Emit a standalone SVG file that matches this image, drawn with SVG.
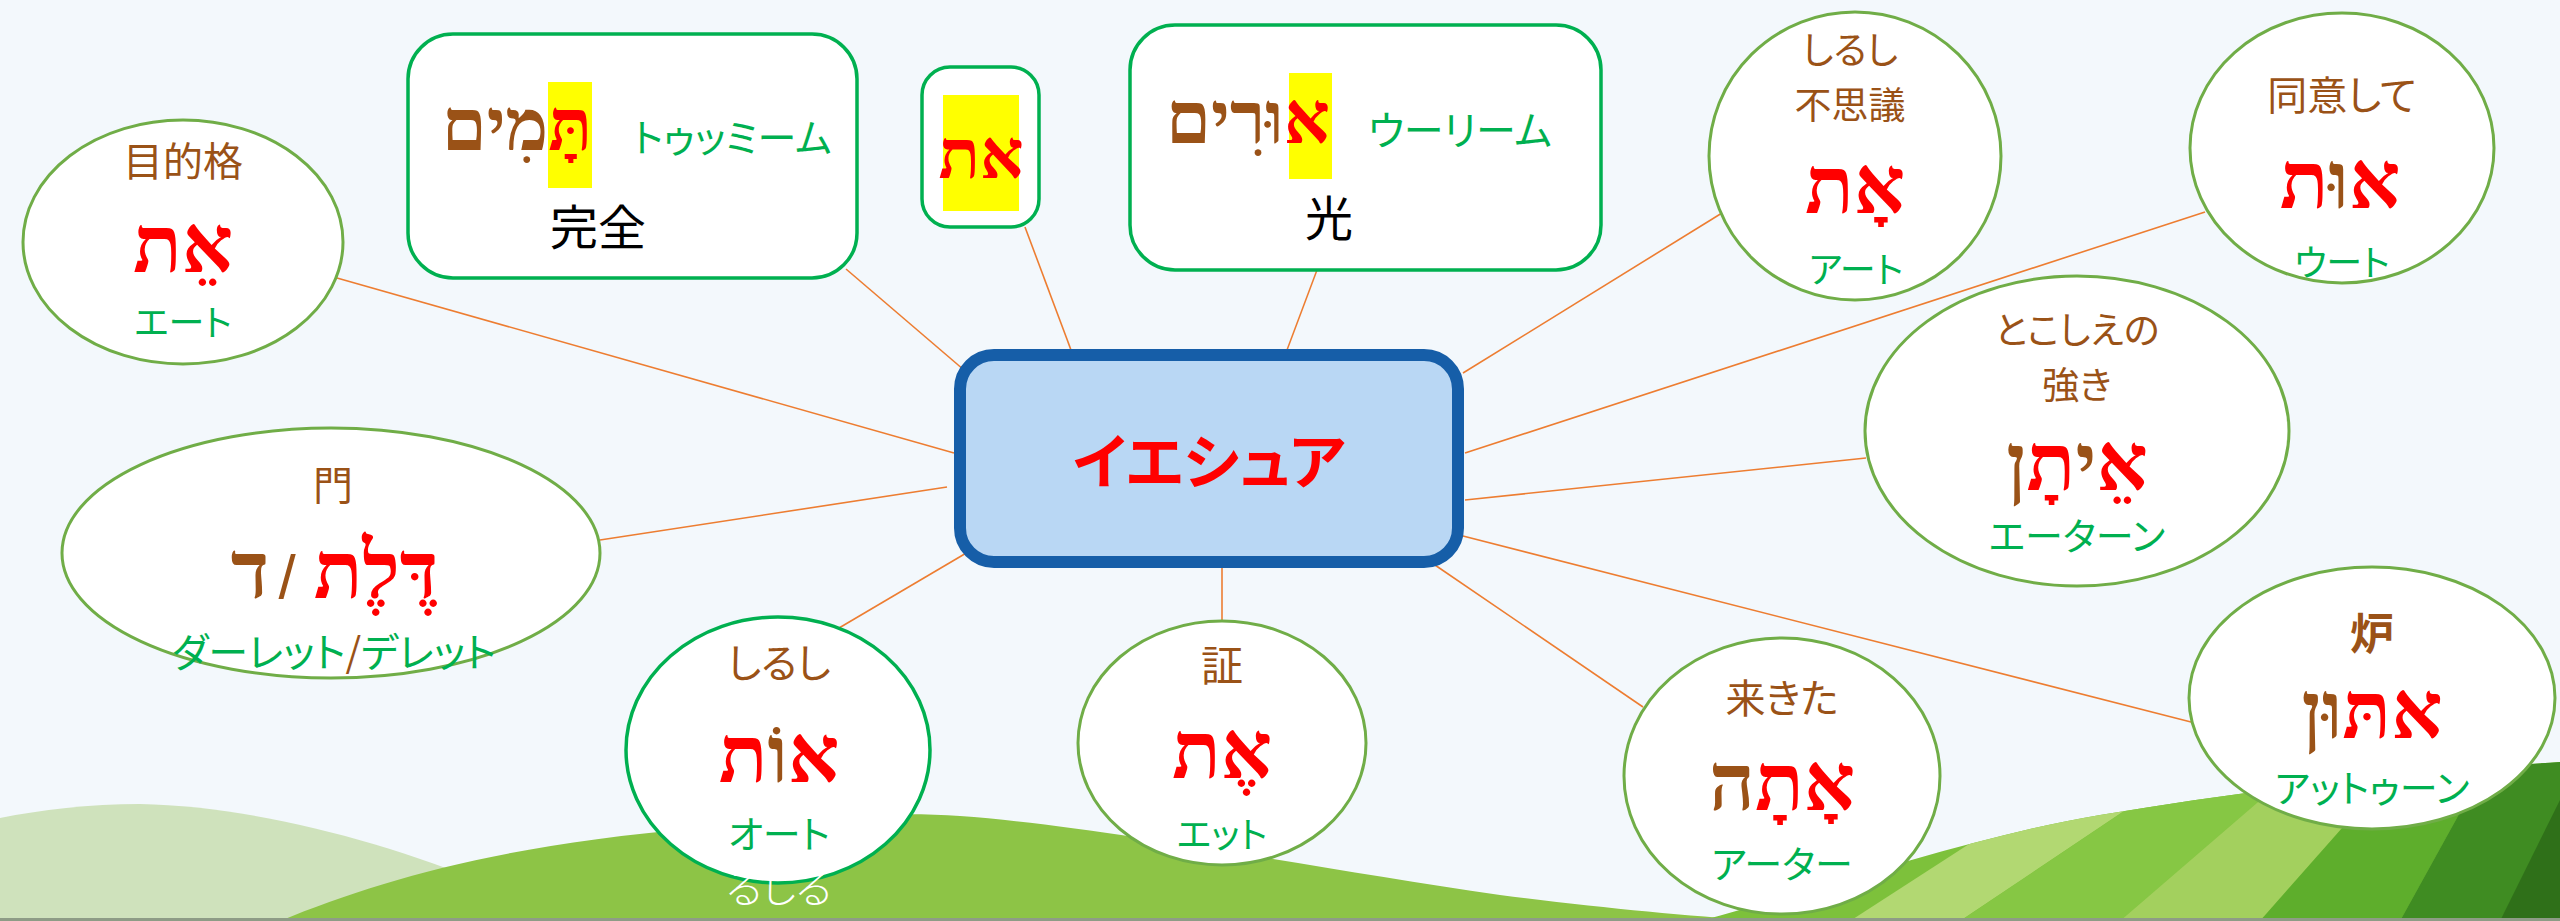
<svg xmlns="http://www.w3.org/2000/svg" width="2560" height="921" viewBox="0 0 2560 921">
  <style>
    .jp { font-family: "Noto Sans CJK JP", "Noto Sans", sans-serif; font-feature-settings: "palt"; text-anchor: middle; }
    .he { font-family: "Liberation Serif", "DejaVu Sans", serif; font-weight: bold; text-anchor: middle; }
    .brown { fill: #9A5217; }
    .red { fill: #FF0000; }
    .green { fill: #00B050; }
    .black { fill: #000000; }
    .oval { fill: #FFFFFF; stroke: #70AD47; stroke-width: 3; }
    .box { fill: #FFFFFF; stroke: #00B050; stroke-width: 3.5; }
    .mark { fill: #FFFF00; }
    .link { stroke: #ED7D31; stroke-width: 1.6; fill: none; }
  </style>
  <defs>
    <clipPath id="fieldClip">
      <path d="M1700 921 C1850 880 1980 835 2100 815 C2250 790 2400 772 2560 762 L2560 921 Z"/>
    </clipPath>
  </defs>

  <!-- sky -->
  <rect x="0" y="0" width="2560" height="921" fill="#F3F8FC"/>

  <!-- hills -->
  <g id="hills">
    <path d="M0 818 C40 810 90 804 140 804 C250 806 380 840 490 885 L490 921 L0 921 Z" fill="#CFE2BC"/>
    <path d="M280 921 C380 880 500 845 700 828 C820 815 900 812 960 816 C1100 826 1300 866 1500 895 C1600 908 1680 915 1760 921 Z" fill="#8DC446"/>
    <g clip-path="url(#fieldClip)">
      <rect x="1690" y="740" width="880" height="190" fill="#7DC13B"/>
      <polygon points="1850,921 2130,740 2230,740 1960,921" fill="#B2D872"/>
      <polygon points="1960,921 2230,740 2330,740 2120,921" fill="#86C744"/>
      <polygon points="2120,921 2330,740 2420,740 2260,921" fill="#A3D05E"/>
      <polygon points="2260,921 2420,740 2500,740 2400,921" fill="#5EAE2C"/>
      <polygon points="2400,921 2500,740 2560,740 2560,921" fill="#3F8C22"/>
      <polygon points="2500,921 2560,800 2560,921" fill="#2F7019"/>
    </g>
    <rect x="0" y="918" width="2560" height="3" fill="#8E9C86"/>
  </g>

  <!-- connectors -->
  <g id="connectors">
    <line class="link" x1="954" y1="453" x2="337" y2="278"/>
    <line class="link" x1="964" y1="370" x2="846" y2="269"/>
    <line class="link" x1="1071" y1="350" x2="1025" y2="227"/>
    <line class="link" x1="1287" y1="350" x2="1317" y2="270"/>
    <line class="link" x1="1463" y1="373" x2="1722" y2="213"/>
    <line class="link" x1="1465" y1="453" x2="2205" y2="212"/>
    <line class="link" x1="1465" y1="500" x2="1866" y2="458"/>
    <line class="link" x1="1463" y1="536" x2="2191" y2="722"/>
    <line class="link" x1="1432" y1="563" x2="1643" y2="707"/>
    <line class="link" x1="1222" y1="568" x2="1222" y2="622"/>
    <line class="link" x1="968" y1="552" x2="839" y2="628"/>
    <line class="link" x1="947" y1="487" x2="600" y2="540"/>
  </g>

  <!-- central node -->
  <g id="node-center">
    <rect x="960" y="355" width="498" height="207" rx="34" fill="#B9D7F4" stroke="#165EA8" stroke-width="12"/>
    <text class="jp red" x="1209" y="484" font-size="60" font-weight="bold">イエシュア</text>
  </g>

  <!-- object marker -->
  <g id="node-mokutekikaku">
    <ellipse class="oval" cx="183" cy="242" rx="160" ry="122"/>
    <text class="jp brown" x="183" y="176" font-size="40">目的格</text>
    <text class="he red" x="183" y="272" font-size="80">אֵת</text>
    <text class="jp green" x="183" y="336" font-size="36">エート</text>
  </g>

  <!-- perfect -->
  <g id="node-kanzen">
    <rect class="box" x="408" y="34" width="449" height="244" rx="45"/>
    <rect class="mark" x="548" y="82" width="44" height="106"/>
    <text class="he" x="517" y="150" font-size="72"><tspan class="red">תָּ</tspan><tspan class="brown">מִים</tspan></text>
    <text class="jp green" x="633" y="152" font-size="39" style="text-anchor:start">トゥッミーム</text>
    <text class="jp black" x="598" y="245" font-size="48">完全</text>
  </g>

  <!-- aleph-tav -->
  <g id="node-et">
    <rect class="box" x="922" y="67" width="117" height="160" rx="28"/>
    <rect class="mark" x="943" y="95" width="76" height="116"/>
    <text class="he red" x="981" y="178" font-size="68">את</text>
  </g>

  <!-- light -->
  <g id="node-hikari">
    <rect class="box" x="1130" y="25" width="471" height="245" rx="45"/>
    <rect class="mark" x="1289" y="73" width="43" height="106"/>
    <text class="he" x="1248" y="143" font-size="72"><tspan class="red">א</tspan><tspan class="brown">וּרִים</tspan></text>
    <text class="jp green" x="1368" y="145" font-size="40" style="text-anchor:start">ウーリーム</text>
    <text class="jp black" x="1329" y="236" font-size="48">光</text>
  </g>

  <!-- sign, wonder -->
  <g id="node-fushigi">
    <ellipse class="oval" cx="1855" cy="156" rx="146" ry="144"/>
    <text class="jp brown" x="1850" y="64" font-size="37">しるし</text>
    <text class="jp brown" x="1850" y="119" font-size="37">不思議</text>
    <text class="he red" x="1855" y="213" font-size="80">אָת</text>
    <text class="jp green" x="1856" y="283" font-size="36">アート</text>
  </g>

  <!-- consenting -->
  <g id="node-doui">
    <ellipse class="oval" cx="2342" cy="148" rx="152" ry="135"/>
    <text class="jp brown" x="2342" y="110" font-size="40">同意して</text>
    <text class="he" x="2340" y="208" font-size="80"><tspan class="red">א</tspan><tspan class="brown">וּ</tspan><tspan class="red">ת</tspan></text>
    <text class="jp green" x="2342" y="276" font-size="36">ウート</text>
  </g>

  <!-- everlasting strength -->
  <g id="node-tokoshie">
    <ellipse class="oval" cx="2077" cy="431" rx="212" ry="155"/>
    <text class="jp brown" x="2077" y="344" font-size="37">とこしえの</text>
    <text class="jp brown" x="2077" y="399" font-size="37">強き</text>
    <text class="he" x="2077" y="490" font-size="80"><tspan class="red">אֵ</tspan><tspan class="brown">י</tspan><tspan class="red">תָ</tspan><tspan class="brown">ן</tspan></text>
    <text class="jp green" x="2077" y="550" font-size="38">エーターン</text>
  </g>

  <!-- furnace -->
  <g id="node-ro">
    <ellipse class="oval" cx="2372" cy="698" rx="183" ry="131"/>
    <text class="jp brown" x="2372" y="650" font-size="44" font-weight="bold">炉</text>
    <text class="he" x="2372" y="738" font-size="80"><tspan class="red">אתּ</tspan><tspan class="brown">וּן</tspan></text>
    <text class="jp green" x="2372" y="802" font-size="38">アットゥーン</text>
  </g>

  <!-- came -->
  <g id="node-kita">
    <ellipse class="oval" cx="1782" cy="776" rx="158" ry="138"/>
    <text class="jp brown" x="1782" y="713" font-size="40">来きた</text>
    <text class="he" x="1782" y="810" font-size="80"><tspan class="red">אָתָ</tspan><tspan class="brown">ה</tspan></text>
    <text class="jp green" x="1782" y="878" font-size="38">アーター</text>
  </g>

  <!-- witness -->
  <g id="node-akashi">
    <ellipse class="oval" cx="1222" cy="743" rx="144" ry="122"/>
    <text class="jp brown" x="1222" y="681" font-size="42">証</text>
    <text class="he red" x="1222" y="778" font-size="80">אֶת</text>
    <text class="jp green" x="1222" y="848" font-size="36">エット</text>
  </g>

  <!-- sign -->
  <g id="node-shirushi">
    <ellipse cx="778" cy="750" rx="152" ry="133" fill="#FFFFFF" stroke="#00B050" stroke-width="3.5"/>
    <text class="jp brown" x="779" y="678" font-size="40">しるし</text>
    <text class="he" x="779" y="782" font-size="80"><tspan class="red">א</tspan><tspan class="brown">וֹ</tspan><tspan class="red">ת</tspan></text>
    <text class="jp green" x="779" y="848" font-size="38">オート</text>
    <text class="jp" x="779" y="903" font-size="40" fill="#FFFFFF" font-weight="300">るしる</text>
  </g>

  <!-- door -->
  <g id="node-mon">
    <ellipse class="oval" cx="331" cy="553" rx="269" ry="125"/>
    <text class="jp brown" x="333" y="500" font-size="40">門</text>
    <text class="he brown" x="250" y="598" font-size="80">ד</text>
    <text class="brown" x="287" y="598" font-size="62" font-family="Liberation Sans, sans-serif" text-anchor="middle">/</text>
    <text class="he red" x="376" y="598" font-size="80">דֶּלֶת</text>
    <text class="jp green" x="334" y="667" font-size="40">ダーレット<tspan class="brown">/</tspan>デレット</text>
  </g>
</svg>
